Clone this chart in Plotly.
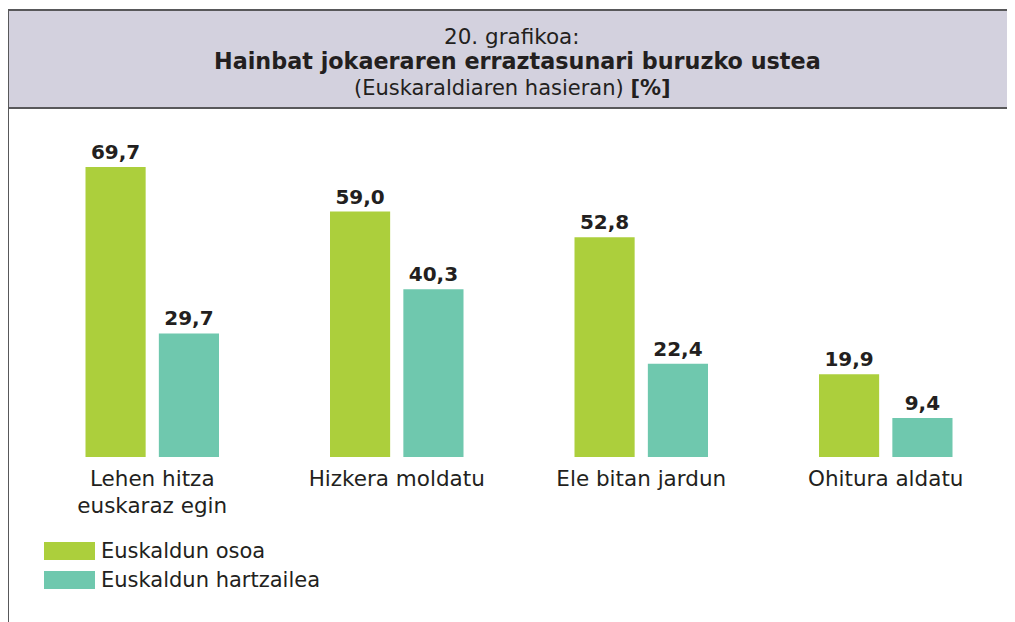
import plotly.graph_objects as go

categories = ["Lehen hitza<br>euskaraz egin", "Hizkera moldatu", "Ele bitan jardun", "Ohitura aldatu"]
series_names = ["Euskaldun osoa", "Euskaldun hartzailea"]
osoa = [69.7, 59.0, 52.8, 19.9]
hartzailea = [29.7, 40.3, 22.4, 9.4]
colors = ["#accf3c", "#6fc8ae"]

# page body has an 8px margin, so figure coords = screen coords - 8
W, H = 1007, 614
FONT = "DejaVu Sans"
TXT = "#231f20"

fig = go.Figure()
for name, vals, col in zip(series_names, [osoa, hartzailea], colors):
    fig.add_trace(go.Bar(
        x=categories, y=vals, name=name, marker_color=col, marker_line_width=0,
        texttemplate="<b>%{y:.1f}</b>", textposition="outside", cliponaxis=False,
        textfont=dict(family=FONT, size=20, color=TXT), showlegend=False,
    ))

plot_left, plot_right = 22, 1000
plot_top, plot_bottom = 112, 449


def px(x):
    return (x - plot_left) / (plot_right - plot_left)


def py(y):
    return (plot_bottom - y) / (plot_bottom - plot_top)


fig.update_layout(
    width=W, height=H, separators=",.",
    margin=dict(l=plot_left, r=W - plot_right, t=plot_top, b=H - plot_bottom, pad=0),
    paper_bgcolor="white", plot_bgcolor="white",
    barmode="group", bargap=0.4, bargroupgap=0.18,
    font=dict(family=FONT, color=TXT),
    xaxis=dict(showgrid=False, showline=False, ticks="", tickfont=dict(size=21.5, color=TXT),
               ticklabelstandoff=6, fixedrange=True),
    yaxis=dict(range=[0, (plot_bottom - plot_top) / 4.16], visible=False, showgrid=False, fixedrange=True),
)

# header box
fig.add_shape(type="rect", xref="paper", yref="paper", x0=px(0), x1=px(W + 20), y0=py(100), y1=py(2),
              fillcolor="#d3d1de", line=dict(color="#58585a", width=2), layer="below")
# left frame line down the page
fig.add_shape(type="line", xref="paper", yref="paper", x0=px(0), x1=px(0), y0=py(100), y1=py(H + 20),
              line=dict(color="#58585a", width=2))

# header text
fig.add_annotation(xref="paper", yref="paper", x=px(504), y=py(28), text="20. grafikoa:", showarrow=False,
                   font=dict(family=FONT, size=21.5, color=TXT), xanchor="center", yanchor="middle")
fig.add_annotation(xref="paper", yref="paper", x=px(509), y=py(53),
                   text="<b>Hainbat jokaeraren erraztasunari buruzko ustea</b>", showarrow=False,
                   font=dict(family=FONT, size=22.3, color=TXT), xanchor="center", yanchor="middle")
fig.add_annotation(xref="paper", yref="paper", x=px(504), y=py(80),
                   text="(Euskaraldiaren hasieran) <b>[%]</b>", showarrow=False,
                   font=dict(family=FONT, size=21, color=TXT), xanchor="center", yanchor="middle")

# legend
for i, (name, col) in enumerate(zip(series_names, colors)):
    yc = 543 + i * 29
    fig.add_shape(type="rect", xref="paper", yref="paper", x0=px(36), x1=px(87), y0=py(yc + 9), y1=py(yc - 9),
                  fillcolor=col, line=dict(width=0))
    fig.add_annotation(xref="paper", yref="paper", x=px(91), y=py(yc), text=name, showarrow=False,
                       font=dict(family=FONT, size=21, color=TXT), xanchor="left", yanchor="middle")

fig.write_html("out.html")
